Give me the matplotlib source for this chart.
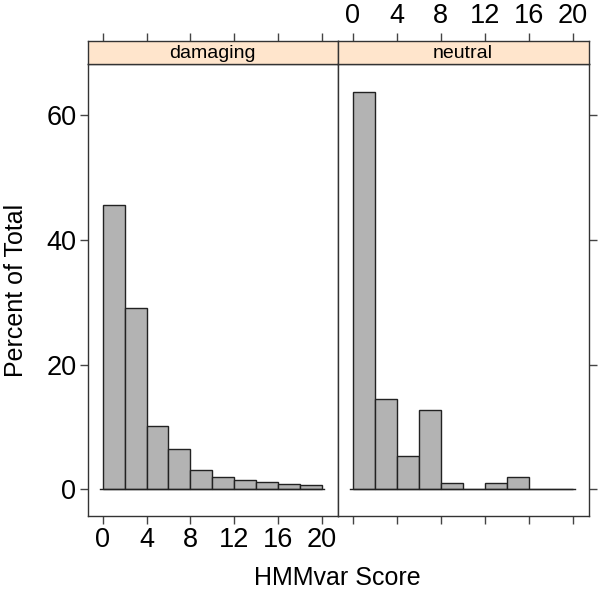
import numpy as np
import matplotlib.pyplot as plt

plt.rcParams['font.family'] = ['Liberation Sans', 'DejaVu Sans']

# histogram data (percent of total), bins of width 2 from 0 to 20
bin_edges = [0, 2, 4, 6, 8, 10, 12, 14, 16, 18, 20]
damaging = [45.6, 29.0, 10.2, 6.4, 3.0, 1.9, 1.5, 1.1, 0.8, 0.65]
neutral = [63.7, 14.4, 5.4, 12.7, 1.0, 0.0, 1.0, 1.9, 0.0, 0.0]
panels = ['damaging', 'neutral']
xticks = [0, 4, 8, 12, 16, 20]
yticks = [0, 20, 40, 60]

W, H = 600, 591
fig = plt.figure(figsize=(6, 5.91), dpi=100)

def px(x0, y0, x1, y1):
    # pixel box (top-left origin) -> figure fraction
    return [x0 / W, 1 - y1 / H, (x1 - x0) / W, (y1 - y0) / H]

xlim = (-1.4, 21.45)
ylim = (-4.3, 68.2)
bar_color = '#b3b3b3'
strip_color = '#ffe5cc'
frame_color = '#333333'

lefts = [87.5, 337.5]
rights = [337.5, 588.5]
for i, (name, vals) in enumerate(zip(panels, [damaging, neutral])):
    ax = fig.add_axes(px(lefts[i], 64, rights[i], 516))
    ax.bar(bin_edges[:-1], vals, width=2, align='edge', color=bar_color,
           edgecolor='#222222', linewidth=1.0, zorder=2)
    ax.plot([bin_edges[0] - 0.25, bin_edges[-1] + 0.25], [0, 0], color='#222222', lw=1.0, zorder=3)
    ax.set_xlim(xlim)
    ax.set_ylim(ylim)
    ax.set_xticks(xticks)
    ax.set_yticks(yticks)
    for s in ax.spines.values():
        s.set_linewidth(1.0)
        s.set_color(frame_color)
    ax.tick_params(direction='out', length=6, width=1, color='#444444', labelsize=19.5, pad=2)
    if i == 0:
        ax.tick_params(axis='y', left=True, right=False, labelleft=True)
        ax.tick_params(axis='x', bottom=True, labelbottom=True)
        ax.set_ylabel('Percent of Total', fontsize=18)
        ax.yaxis.set_label_coords(-0.237, 0.5)
    else:
        ax.tick_params(axis='y', left=False, right=True, labelleft=False, labelright=False)
        ax.tick_params(axis='x', bottom=True, labelbottom=False)

    sax = fig.add_axes(px(lefts[i], 40.5, rights[i], 64))
    sax.set_facecolor(strip_color)
    sax.set_xlim(xlim)
    sax.set_ylim(0, 1)
    sax.set_yticks([])
    sax.set_xticks(xticks)
    sax.xaxis.set_ticks_position('top')
    sax.tick_params(axis='x', direction='out', length=6, width=1, color='#444444',
                    labelsize=19.5, pad=2, labeltop=(i == 1), labelbottom=False, bottom=False)
    for s in sax.spines.values():
        s.set_linewidth(1.0)
        s.set_color(frame_color)
    sax.text(0.5, 0.45, name, transform=sax.transAxes, ha='center', va='center', fontsize=14)

fig.text(337.5 / W, 1 - 578 / H, 'HMMvar Score', ha='center', va='center', fontsize=18)

fig.savefig('out.png', dpi=100)
